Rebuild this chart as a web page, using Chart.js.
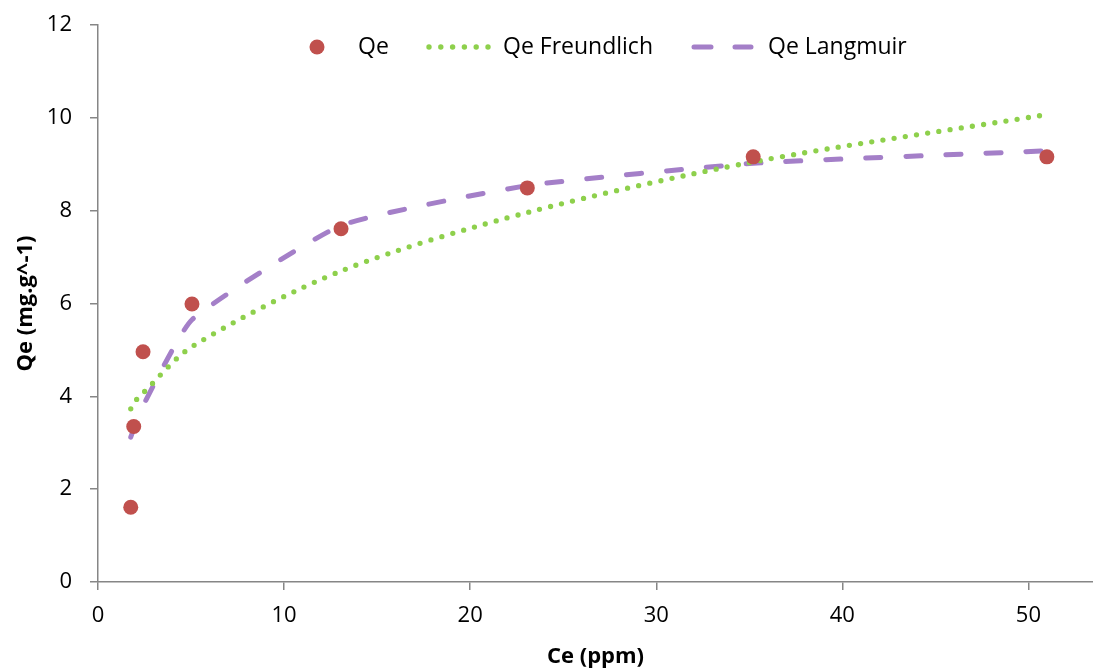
<!DOCTYPE html>
<html><head><meta charset="utf-8">
<script src="https://cdn.jsdelivr.net/npm/chart.js@4"></script>
<style>html,body{margin:0;padding:0;background:#fff;}</style>
</head><body>
<canvas id="c" width="1093" height="668"></canvas>
<script>
// ---- data ----
const ce         = [1.76, 1.92, 2.42, 5.05, 13.06, 23.07, 35.21, 50.99];
const qe         = [1.61, 3.35, 4.96, 5.99, 7.61, 8.49, 9.16, 9.16];
const freundlich = [3.73, 3.86, 4.07, 5.07, 6.70, 7.96, 9.05, 10.07];
const langmuir   = [3.12, 3.30, 3.80, 5.65, 7.68, 8.54, 9.02, 9.29];
const xTicks = [0, 10, 20, 30, 40, 50];
const yTicks = [0, 2, 4, 6, 8, 10, 12];
const seriesNames = ['Qe', 'Qe Freundlich', 'Qe Langmuir'];
const xTitle = 'Ce (ppm)';
const yTitle = 'Qe (mg.g^-1)';

const FONT = "'Open Sans', sans-serif";
const AXIS = '#868686';
const RED = '#C0504D', GREEN = '#8ED04C', PURPLE = '#A47FC8';

const pts = ys => ce.map((x, i) => ({x: x, y: ys[i]}));

const legendPlugin = {
  id: 'customLegend',
  afterDraw(chart) {
    const ctx = chart.ctx;
    const y = 47;
    ctx.save();
    ctx.fillStyle = RED;
    ctx.beginPath(); ctx.arc(317, y, 7.5, 0, Math.PI * 2); ctx.fill();
    ctx.fillStyle = GREEN;
    for (let i = 0; i < 6; i++) {
      ctx.beginPath(); ctx.arc(429 + i * 11.8, y, 2.7, 0, Math.PI * 2); ctx.fill();
    }
    ctx.strokeStyle = PURPLE; ctx.lineWidth = 5; ctx.lineCap = 'round';
    ctx.beginPath(); ctx.moveTo(694, y); ctx.lineTo(711, y); ctx.moveTo(735, y); ctx.lineTo(751, y); ctx.stroke();
    ctx.fillStyle = '#000';
    ctx.font = '23px ' + FONT;
    ctx.textBaseline = 'middle'; ctx.textAlign = 'left';
    ctx.fillText(seriesNames[0], 358, y);
    ctx.fillText(seriesNames[1], 503, y);
    ctx.fillText(seriesNames[2], 768, y);
    ctx.restore();
  }
};

const zeroPad = s => { s.paddingLeft = 0; s.paddingRight = 0; s.paddingTop = 0; s.paddingBottom = 0; };

new Chart(document.getElementById('c'), {
  type: 'scatter',
  data: {
    datasets: [
      { label: seriesNames[0], data: pts(qe), showLine: false,
        pointRadius: 7.5, pointHoverRadius: 7.5, pointBackgroundColor: RED, pointBorderWidth: 0 },
      { label: seriesNames[1], data: pts(freundlich), showLine: true, pointRadius: 0,
        borderColor: GREEN, borderWidth: 5.3, borderDash: [0, 11.3], borderCapStyle: 'round', tension: 0.3 },
      { label: seriesNames[2], data: pts(langmuir), showLine: true, pointRadius: 0,
        borderColor: PURPLE, borderWidth: 5, borderDash: [15, 25], borderCapStyle: 'round', tension: 0.15 }
    ]
  },
  options: {
    responsive: false, animation: false,
    layout: { autoPadding: false, padding: { top: 25, right: 0, left: 0, bottom: 0 } },
    plugins: { legend: { display: false }, tooltip: { enabled: false } },
    scales: {
      x: {
        type: 'linear', min: 0, max: 53.47,
        afterBuildTicks: s => { s.ticks = xTicks.map(v => ({ value: v })); },
        afterFit: s => { s.height = 86; zeroPad(s); },
        ticks: { color: '#000', font: { family: FONT, size: 22 }, padding: 13, maxRotation: 0, autoSkip: false },
        grid: { drawOnChartArea: false, drawTicks: true, tickLength: 8, color: AXIS, lineWidth: 1.5 },
        border: { display: true, color: AXIS, width: 1.5 },
        title: { display: true, text: xTitle, color: '#000', font: { family: FONT, size: 22, weight: 'bold', lineHeight: 1 }, padding: { top: 1, bottom: 0 } }
      },
      y: {
        type: 'linear', min: 0, max: 12,
        afterBuildTicks: s => { s.ticks = yTicks.map(v => ({ value: v })); },
        afterFit: s => { s.width = 98; zeroPad(s); },
        ticks: { color: '#000', font: { family: FONT, size: 22 }, padding: 18, autoSkip: false },
        grid: { drawOnChartArea: false, drawTicks: true, tickLength: 8, color: AXIS, lineWidth: 1.5 },
        border: { display: true, color: AXIS, width: 1.5 },
        title: { display: true, text: yTitle, color: '#000', font: { family: FONT, size: 22, weight: 'bold', lineHeight: 1 }, padding: { top: 15, bottom: 0 } }
      }
    }
  },
  plugins: [legendPlugin]
});
</script>
</body></html>
